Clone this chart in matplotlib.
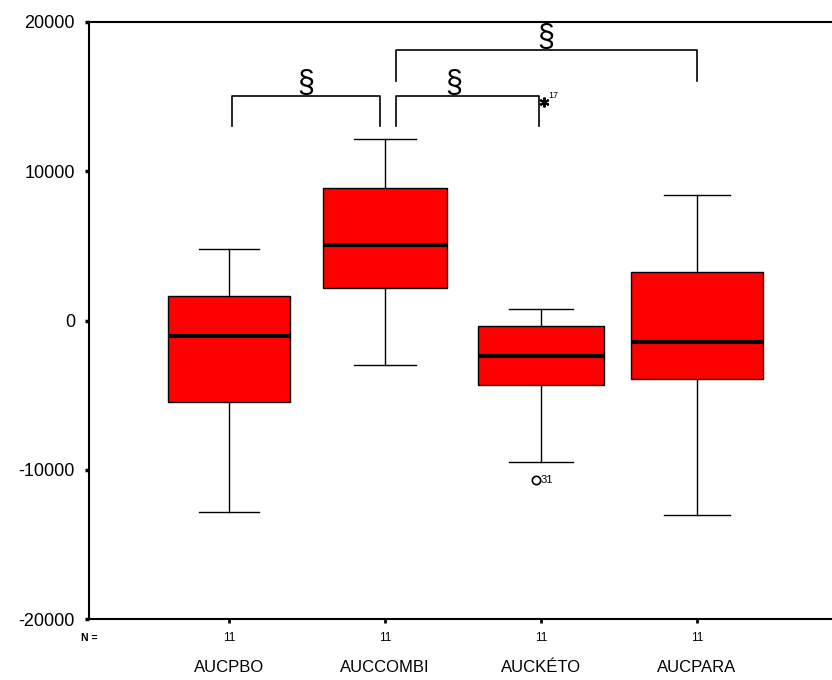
#!/usr/bin/env python3
import matplotlib
matplotlib.use("Agg")
import matplotlib.pyplot as plt

plt.rcParams['font.family'] = ['Liberation Sans', 'DejaVu Sans']

# Data (SPSS-style boxplot)
categories = ["AUCPBO", "AUCCOMBI", "AUCKÉTO", "AUCPARA"]
n_values = [11, 11, 11, 11]
whisker_low = [-12800, -2950, -9500, -13000]
q1 = [-5430, 2210, -4290, -3950]
median = [-1070, 5090, -2410, -1470]
q3 = [1610, 8910, -340, 3280]
whisker_high = [4820, 12130, 800, 8440]

# outliers / extremes: (category index, value, case label)
outliers = [(2, -10700, "31")]
extremes = [(2, 14650, "17")]

# significance brackets: (from, to, height, legs bottom)
brackets = [(0, 1, 15050, 13000), (1, 2, 15050, 13000), (1, 3, 18100, 16050)]
sig_label = "§"

fig = plt.figure(figsize=(8.32, 6.8), dpi=100)
ax = fig.add_axes([89 / 832, 61 / 680, 1 - 89 / 832, (619 - 22) / 680])

pos = [1, 2, 3, 4]
widths = [0.78, 0.79, 0.81, 0.85]
stats = []
for i in range(len(categories)):
    stats.append(dict(med=median[i], q1=q1[i], q3=q3[i],
                      whislo=whisker_low[i], whishi=whisker_high[i], fliers=[]))

ax.bxp(stats, positions=pos, widths=widths, patch_artist=True, showfliers=False,
       boxprops=dict(facecolor="#ff0000", edgecolor="black", linewidth=1.0),
       medianprops=dict(color="black", linewidth=3.0),
       whiskerprops=dict(color="black", linewidth=1.0),
       capprops=dict(color="black", linewidth=1.0),
       capwidths=[w / 2 for w in widths], manage_ticks=False)

for i, v, lab in outliers:
    ax.plot(pos[i] - 0.03, v, marker="o", ms=6, mfc="none", mec="black", mew=1.2)
    ax.text(pos[i] + 0.0, v, lab, fontsize=8, va="center", ha="left")
for i, v, lab in extremes:
    ax.plot(pos[i] + 0.02, v, marker=(6, 2, 0), ms=7, color="black", mew=1.5)
    ax.text(pos[i] + 0.05, v + 400, lab, fontsize=6.5, va="center", ha="left")

# bracket legs sit slightly off the category centres as in the original
leg_x = {(0, 1): (1.02, 1.97), (1, 2): (2.07, 2.99), (1, 3): (2.07, 4.0)}
label_x = {(0, 1): 1.49, (1, 2): 2.44, (1, 3): 3.03}
for a, b, h, low in brackets:
    xa, xb = leg_x[(a, b)]
    ax.plot([xa, xa, xb, xb], [low, h, h, low], color="black", lw=1.2)
    ax.text(label_x[(a, b)], h - 200, sig_label, fontsize=22, ha="center", va="bottom")

ax.set_xlim(0.103, 4.866)
ax.set_ylim(-20000, 20000)
ax.set_yticks([-20000, -10000, 0, 10000, 20000])
ax.set_yticklabels(["-20000", "-10000", "0", "10000", "20000"], fontsize=13)
ax.tick_params(axis="y", length=3, width=2.5, pad=7)
ax.set_xticks(pos)
ax.set_xticklabels([])
ax.tick_params(axis="x", length=3, width=2)

for i, p in enumerate(pos):
    ax.text(p, -21300, str(n_values[i]), fontsize=8.5, ha="center", va="center")
    ax.text(p, -23250, categories[i], fontsize=12, ha="center", va="center")
ax.text(0.155, -21300, "N =", fontsize=7.5, ha="right", va="center", fontweight="bold")

for s in ["left", "top", "bottom"]:
    ax.spines[s].set_linewidth(1.5)
ax.spines["right"].set_visible(False)

fig.savefig("out.png", dpi=100)
